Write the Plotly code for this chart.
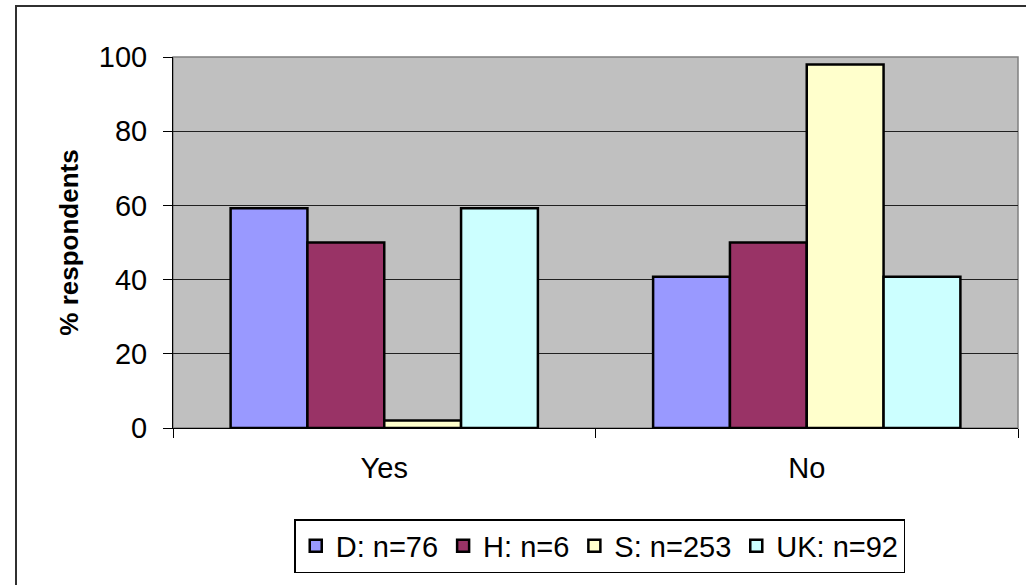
import plotly.graph_objects as go

categories = ["Yes", "No"]
series_names = ["D: n=76", "H: n=6", "S: n=253", "UK: n=92"]
d_values = [59.2, 40.8]
h_values = [50, 50]
s_values = [2, 98]
uk_values = [59.2, 40.8]
colors = ["#9999FF", "#993366", "#FFFFCC", "#CCFFFF"]
y_ticks = [0, 20, 40, 60, 80, 100]

W, H = 1026, 585
L, R, T, B = 173, 8, 57, 157
pw, ph = W - L - R, H - T - B

fig = go.Figure()
for name, vals, col in zip(series_names, [d_values, h_values, s_values, uk_values], colors):
    fig.add_trace(go.Bar(x=categories, y=vals, name=name,
                         marker=dict(color=col, line=dict(color="black", width=2.5))))

family = "Liberation Sans, Arial, sans-serif"
font = dict(family=family, size=29, color="black")
fig.update_layout(
    width=W, height=H,
    margin=dict(l=L, r=R, t=T, b=B, pad=0),
    paper_bgcolor="white", plot_bgcolor="#C0C0C0",
    barmode="group", bargap=1.5 / 5.5, bargroupgap=0,
    font=font,
    showlegend=True,
    legend=dict(orientation="h", x=0.505, xanchor="center", y=(428 - 519) / ph, yanchor="top",
                bordercolor="black", borderwidth=1.5, bgcolor="white", font=font,
                traceorder="normal", itemwidth=30, tracegroupgap=0),
    xaxis=dict(showline=True, linecolor="black", linewidth=1, ticks="outside", tickson="boundaries",
               ticklen=9, tickcolor="black", tickfont=font, showgrid=False, zeroline=False,
               ticklabelstandoff=14),
    yaxis=dict(range=[0, 100], tickvals=y_ticks, showline=True, linecolor="black", linewidth=1,
               ticks="outside", ticklen=9, tickcolor="black", tickfont=font,
               showgrid=True, gridcolor="#202020", gridwidth=1, zeroline=False,
               ticklabelstandoff=10,
               title=dict(text="<b>% respondents</b>", font=dict(family=family, size=26, color="black"),
                          standoff=12)),
)
# plot area gray border (top/right)
fig.add_shape(type="rect", xref="paper", yref="paper", x0=0, x1=1, y0=0, y1=1,
              line=dict(color="#808080", width=1.5), layer="below")
# outer chart border (left and top visible, right/bottom beyond the picture)
fig.add_shape(type="rect", xref="paper", yref="paper",
              x0=(16 - L) / pw, x1=(W + 20 - L) / pw,
              y0=-(B + 20) / ph, y1=1 + (T - 6) / ph,
              line=dict(color="#303030", width=2))
fig.write_html("out.html", config={"displayModeBar": False},
               post_script="document.body.style.margin='0';")
